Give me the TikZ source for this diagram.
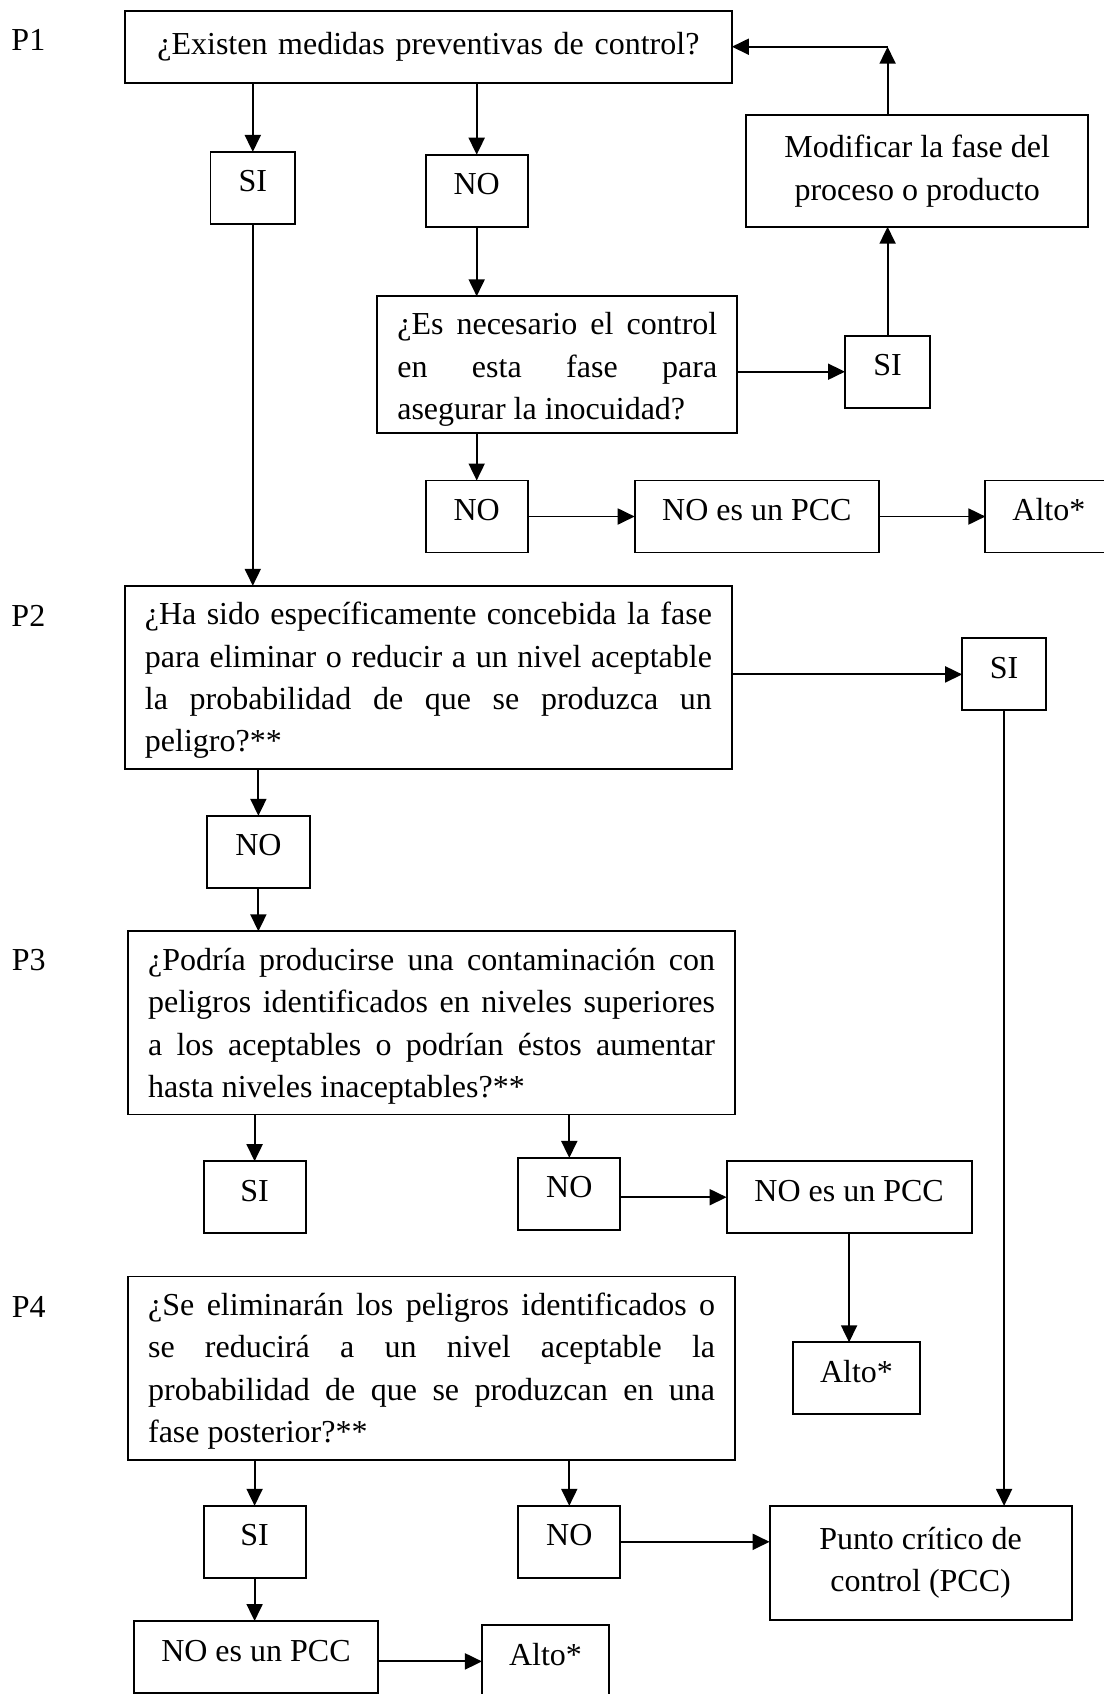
\documentclass[tikz,border=0pt]{standalone}
\usepackage{fontspec}
\setmainfont{Liberation Serif}
\usetikzlibrary{arrows.meta,positioning}

\begin{document}
\begin{tikzpicture}[
        font=\fontsize{16pt}{21.2pt}\selectfont,
        line width=0.95pt,
        every node/.style={outer sep=0pt},
        pregunta/.style={draw, text width=283.5pt, inner xsep=10pt, inner ysep=4pt},
        larga/.style={pregunta, align=justify, minimum height=91.6pt, execute at begin node={\rule{0pt}{14.3pt}}},
        respuesta/.style={draw, align=center, minimum width=51pt, text height=20pt, text depth=16pt, inner sep=0pt},
        resultado/.style={draw, align=center, inner sep=4pt},
        etiqueta/.style={inner sep=0pt},
        flecha/.style={-{Triangle[length=8.5pt, width=8pt]}}
    ]
        \useasboundingbox (-214.2pt,23.35pt) rectangle (337.8pt,-823.65pt);
        \clip (-214.2pt,23.35pt) rectangle (337.8pt,-823.65pt);

        \node[pregunta, align=center, minimum height=36pt] (p1) at (0,0) {¿Existen medidas preventivas de control?};
        \node[respuesta, below=34.6pt of p1, xshift=-87.8pt, minimum width=42.3pt] (si1) {SI};
        \node[respuesta, below=36pt of p1, xshift=24.15pt] (no1) {NO};
        \node[larga, below=34.8pt of no1, xshift=40.3pt, text width=160pt, inner ysep=2pt, minimum height=68.3pt, execute at begin node={\rule{0pt}{16pt}}] (es) {¿Es necesario el control\linebreak en esta fase para\linebreak asegurar la inocuidad?};
        \node[respuesta, right=53.85pt of es, yshift=-3.55pt, minimum width=42.6pt] (si2) {SI};
        \node[resultado, above=54.5pt of si2, xshift=14.8pt, minimum width=170.8pt, minimum height=55.7pt] (mod) {Modificar la fase del\\proceso o producto};
        \node[respuesta, below=23.8pt of es, xshift=-40.3pt] (no2) {NO};
        \node[respuesta, right=53.5pt of no2, minimum width=122.2pt] (nopcc1) {NO es un PCC};
        \node[respuesta, right=53.15pt of nopcc1, minimum width=63.5pt] (alto1) {Alto*};

        \node[larga, below=251.55pt of p1] (p2) {¿Ha sido específicamente concebida la fase\linebreak para eliminar o reducir a un nivel aceptable\linebreak la probabilidad de que se produzca un\linebreak peligro?**};
        \node[respuesta, right=115.15pt of p2, yshift=1.5pt, minimum width=41.9pt] (si3) {SI};
        \node[respuesta, below=23.4pt of p2, xshift=-85pt, minimum width=51.4pt] (no3) {NO};

        \node[larga, below=21.75pt of no3, xshift=86.6pt] (p3) {¿Podría producirse una contaminación con\linebreak peligros identificados en niveles superiores\linebreak a los aceptables o podrían éstos aumentar\linebreak hasta niveles inaceptables?**};
        \node[respuesta, below=23.35pt of p3, xshift=-88.5pt] (si4) {SI};
        \node[respuesta, below=21.7pt of p3, xshift=68.85pt] (no4) {NO};
        \node[respuesta, right=53.15pt of no4, yshift=-1.65pt, minimum width=122.5pt] (nopcc2) {NO es un PCC};
        \node[respuesta, below=54.55pt of nopcc2, xshift=3.7pt, minimum width=63.7pt] (alto2) {Alto*};

        \node[larga, below=81pt of p3] (p4) {¿Se eliminarán los peligros identificados o\linebreak se reducirá a un nivel aceptable la\linebreak probabilidad de que se produzcan en una\linebreak fase posterior?**};
        \node[respuesta, below=23.05pt of p4, xshift=-88.5pt] (si5) {SI};
        \node[respuesta, below=23.05pt of p4, xshift=68.85pt] (no5) {NO};
        \node[resultado, right=74.65pt of no5, yshift=-10.6pt, minimum width=151pt, minimum height=57.1pt] (punto) {Punto crítico de\\control (PCC)};
        \node[respuesta, below=21.6pt of si5, xshift=0.7pt, minimum width=122.2pt] (nopcc3) {NO es un PCC};
        \node[respuesta, right=51.9pt of nopcc3, yshift=-2.2pt, minimum width=63.5pt] (alto3) {Alto*};

        \node[etiqueta, left=39.8pt of p1.north west, yshift=-14.65pt] (etq-p1) {P1};
        \node[etiqueta, left=39.8pt of p2.north west, yshift=-14.85pt] (etq-p2) {P2};
        \node[etiqueta, left=41.2pt of p3.north west, yshift=-14.3pt] (etq-p3) {P3};
        \node[etiqueta, left=41.2pt of p4.north west, yshift=-15.2pt] (etq-p4) {P4};

        \coordinate (esquina) at (si2 |- p1);

        \draw[flecha] (p1.south -| si1) -- (si1);
        \draw[flecha] (p1.south -| no1) -- (no1);
        \draw[flecha] (no1) -- (no1 |- es.north);
        \draw[flecha] (es.east |- si2) -- (si2);
        \draw[flecha] (si2) -- (si2 |- mod.south);
        \draw[flecha] (si2 |- mod.north) -- (esquina);
        \draw[flecha] (esquina) -- (p1.east);
        \draw[flecha] (es.south -| no2) -- (no2);
        \draw[flecha] (no2) -- (nopcc1);
        \draw[flecha] (nopcc1) -- (alto1);
        \draw[flecha] (si1) -- (si1 |- p2.north);
        \draw[flecha] (p2.east |- si3) -- (si3);
        \draw[flecha] (p2.south -| no3) -- (no3);
        \draw[flecha] (no3) -- (no3 |- p3.north);
        \draw[flecha] (p3.south -| si4) -- (si4);
        \draw[flecha] (p3.south -| no4) -- (no4);
        \draw[flecha] (no4.east |- nopcc2) -- (nopcc2);
        \draw[flecha] (nopcc2) -- (nopcc2 |- alto2.north);
        \draw[flecha] (si3) -- (si3 |- punto.north);
        \draw[flecha] (p4.south -| si5) -- (si5);
        \draw[flecha] (p4.south -| no5) -- (no5);
        \draw[flecha] (no5) -- (no5 -| punto.west);
        \draw[flecha] (si5) -- (si5 |- nopcc3.north);
        \draw[flecha] (nopcc3.east |- alto3) -- (alto3);
    \end{tikzpicture}
\end{document}
